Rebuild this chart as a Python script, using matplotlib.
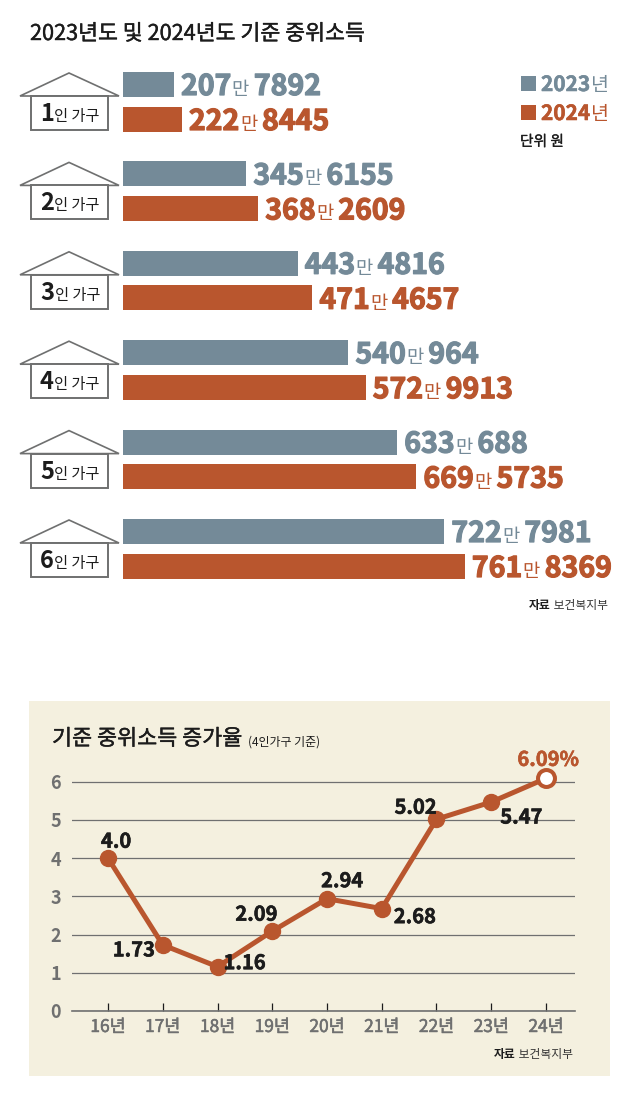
import matplotlib
matplotlib.use("Agg")
import matplotlib.pyplot as plt
import matplotlib.patheffects as pe
from matplotlib.patches import Polygon, Rectangle

plt.rcParams["font.family"] = ["Noto Sans CJK KR", "DejaVu Sans"]

# household income data (만원 part, 원 part)
households = ["1", "2", "3", "4", "5", "6"]
man_2023 = [207, 345, 443, 540, 633, 722]
won_2023 = [7892, 6155, 4816, 964, 688, 7981]
man_2024 = [222, 368, 471, 572, 669, 761]
won_2024 = [8445, 2609, 4657, 9913, 5735, 8369]

# growth rate data
years = ["16년", "17년", "18년", "19년", "20년", "21년", "22년", "23년", "24년"]
growth = [4.0, 1.73, 1.16, 2.09, 2.94, 2.68, 5.02, 5.47, 6.09]
growth_labels = ["4.0", "1.73", "1.16", "2.09", "2.94", "2.68", "5.02", "5.47", "6.09%"]
label_offsets = [(8, 17), (-29, -5), (27, 4), (-16, 17), (15, 18), (33, -8), (-21, 12), (30, -15), (2, 19)]

BLUE = "#748a98"
ORANGE = "#b9562e"
DARK = "#1c1c1c"
GRAY = "#6f7070"
PANEL = "#f4f0df"

W, H = 640, 1100
fig = plt.figure(figsize=(W / 100, H / 100), dpi=100)


def axes_px(left, top, right, bottom, **kw):
    return fig.add_axes(
        [left / W, 1 - bottom / H, (right - left) / W, (bottom - top) / H], **kw
    )


# overlay in pixel coordinates for houses, titles and legend
bg = fig.add_axes([0, 0, 1, 1], zorder=0)
bg.set_xlim(0, W)
bg.set_ylim(H, 0)
bg.axis("off")


def draw_runs(x, y, runs, stroke=0, stroke_all=False):
    # runs of (text, size, weight, color) on one baseline, left to right
    renderer = fig.canvas.get_renderer()
    for s, size, weight, color in runs:
        t = bg.text(x, y, s, fontsize=size, fontweight=weight, color=color,
                    ha="left", va="baseline", zorder=6)
        if stroke and (stroke_all or weight == "bold"):
            t.set_path_effects([pe.withStroke(linewidth=stroke, foreground=color)])
        x = bg.transData.inverted().transform(
            (t.get_window_extent(renderer).x1, 0))[0] + 0.5
    return x


draw_runs(30, 40, [("2023년도 및 2024년도 기준 중위소득", 15.6, "regular", DARK)],
          stroke=0.3, stroke_all=True)

# bars
ax = axes_px(123, 60, 612, 596, zorder=2)
ax.patch.set_alpha(0)
ax.set_xlim(110.7, 110.7 + 489 / 0.525)
ax.set_ylim(536, 0)
ax.axis("off")

for i, h in enumerate(households):
    top = 12 + i * 89.4
    v23 = man_2023[i] + won_2023[i] / 10000
    v24 = man_2024[i] + won_2024[i] / 10000
    ax.barh(top + 12.5, v23, height=25, color=BLUE)
    ax.barh(top + 47, v24, height=25, color=ORANGE)

    base = 60 + top
    for v, man, won, col, yb in [
        (v23, man_2023[i], won_2023[i], BLUE, base + 23),
        (v24, man_2024[i], won_2024[i], ORANGE, base + 58),
    ]:
        xend = bg.transData.inverted().transform(ax.transData.transform((v, 0)))[0]
        draw_runs(xend + 7, yb, [
            (str(man), 20.5, "bold", col),
            ("만", 13.5, "regular", col),
            (" ", 12, "regular", col),
            (str(won), 20.5, "bold", col),
        ], stroke=0.9)

    # house
    bg.add_patch(Polygon([(69, base + 1), (20, base + 24), (119, base + 24)],
                         closed=True, fc="white", ec=GRAY, lw=1.2, zorder=3))
    bg.add_patch(Rectangle((31, base + 24), 77, 34, fc="white", ec=GRAY, lw=1.4, zorder=4))
    draw_runs(40, base + 49, [(h, 17, "bold", DARK), ("인 가구", 11, "regular", DARK)])

# legend
bg.add_patch(Rectangle((520.5, 76), 15, 15, fc=BLUE, ec="none"))
bg.add_patch(Rectangle((520.5, 105), 15, 15, fc=ORANGE, ec="none"))
draw_runs(541, 91, [("2023", 15, "bold", BLUE), ("년", 14, "regular", BLUE)], stroke=0.4)
draw_runs(541, 120, [("2024", 15, "bold", ORANGE), ("년", 14, "regular", ORANGE)], stroke=0.4)
draw_runs(520, 146, [("단위 원", 10.6, "medium", DARK)], stroke=0.2, stroke_all=True)
draw_runs(529, 609, [("자료", 8.5, "bold", DARK), (" 보건복지부", 8.5, "regular", "#333333")])

# lower panel
bg.add_patch(Rectangle((29, 701), 581, 375, fc=PANEL, ec="none", zorder=1))
draw_runs(52, 745, [("기준 중위소득 증가율", 15.7, "regular", DARK)], stroke=0.3, stroke_all=True)
draw_runs(248, 746, [("(4인가구 기준)", 8.6, "regular", DARK)])
draw_runs(494, 1058, [("자료", 8.5, "bold", DARK), (" 보건복지부", 8.5, "regular", "#333333")])

# line chart
lx = axes_px(72, 763, 575, 1011, zorder=3)
lx.patch.set_alpha(0)
lx.set_xlim(-36 / 54.75, 8 + 29 / 54.75)
lx.set_ylim(0, 248 / 38.2)
for s in ["top", "right", "left"]:
    lx.spines[s].set_visible(False)
lx.spines["bottom"].set_color(GRAY)
lx.spines["bottom"].set_linewidth(1.2)
lx.set_yticks(range(7))
lx.set_xticks(range(len(years)), years)
lx.grid(axis="y", color=GRAY, lw=0.9)
lx.set_axisbelow(True)
lx.tick_params(axis="y", length=0, pad=8, labelsize=13, labelcolor=GRAY)
lx.tick_params(axis="x", direction="in", length=6, width=0.9, color=DARK, pad=5,
               labelsize=12.5, labelcolor=GRAY)
for lab in lx.get_yticklabels():
    lab.set_fontweight("bold")
for lab in lx.get_xticklabels():
    lab.set_path_effects([pe.withStroke(linewidth=0.4, foreground=GRAY)])

lx.plot(range(len(growth)), growth, "-o", color=ORANGE, lw=3.6, ms=11.5, clip_on=False)
lx.plot(8, growth[-1], "o", ms=12.2, mfc="white", mec=ORANGE, mew=2.9, clip_on=False)

for i, lab in enumerate(growth_labels):
    t = lx.annotate(lab, (i, growth[i]), xytext=label_offsets[i], textcoords="offset pixels",
                    ha="center", va="center", fontsize=14.5, fontweight="bold",
                    color=ORANGE if i == 8 else DARK, annotation_clip=False, zorder=6)
    t.set_path_effects([pe.withStroke(linewidth=0.4, foreground=t.get_color())])

fig.savefig("out.png", dpi=100)
